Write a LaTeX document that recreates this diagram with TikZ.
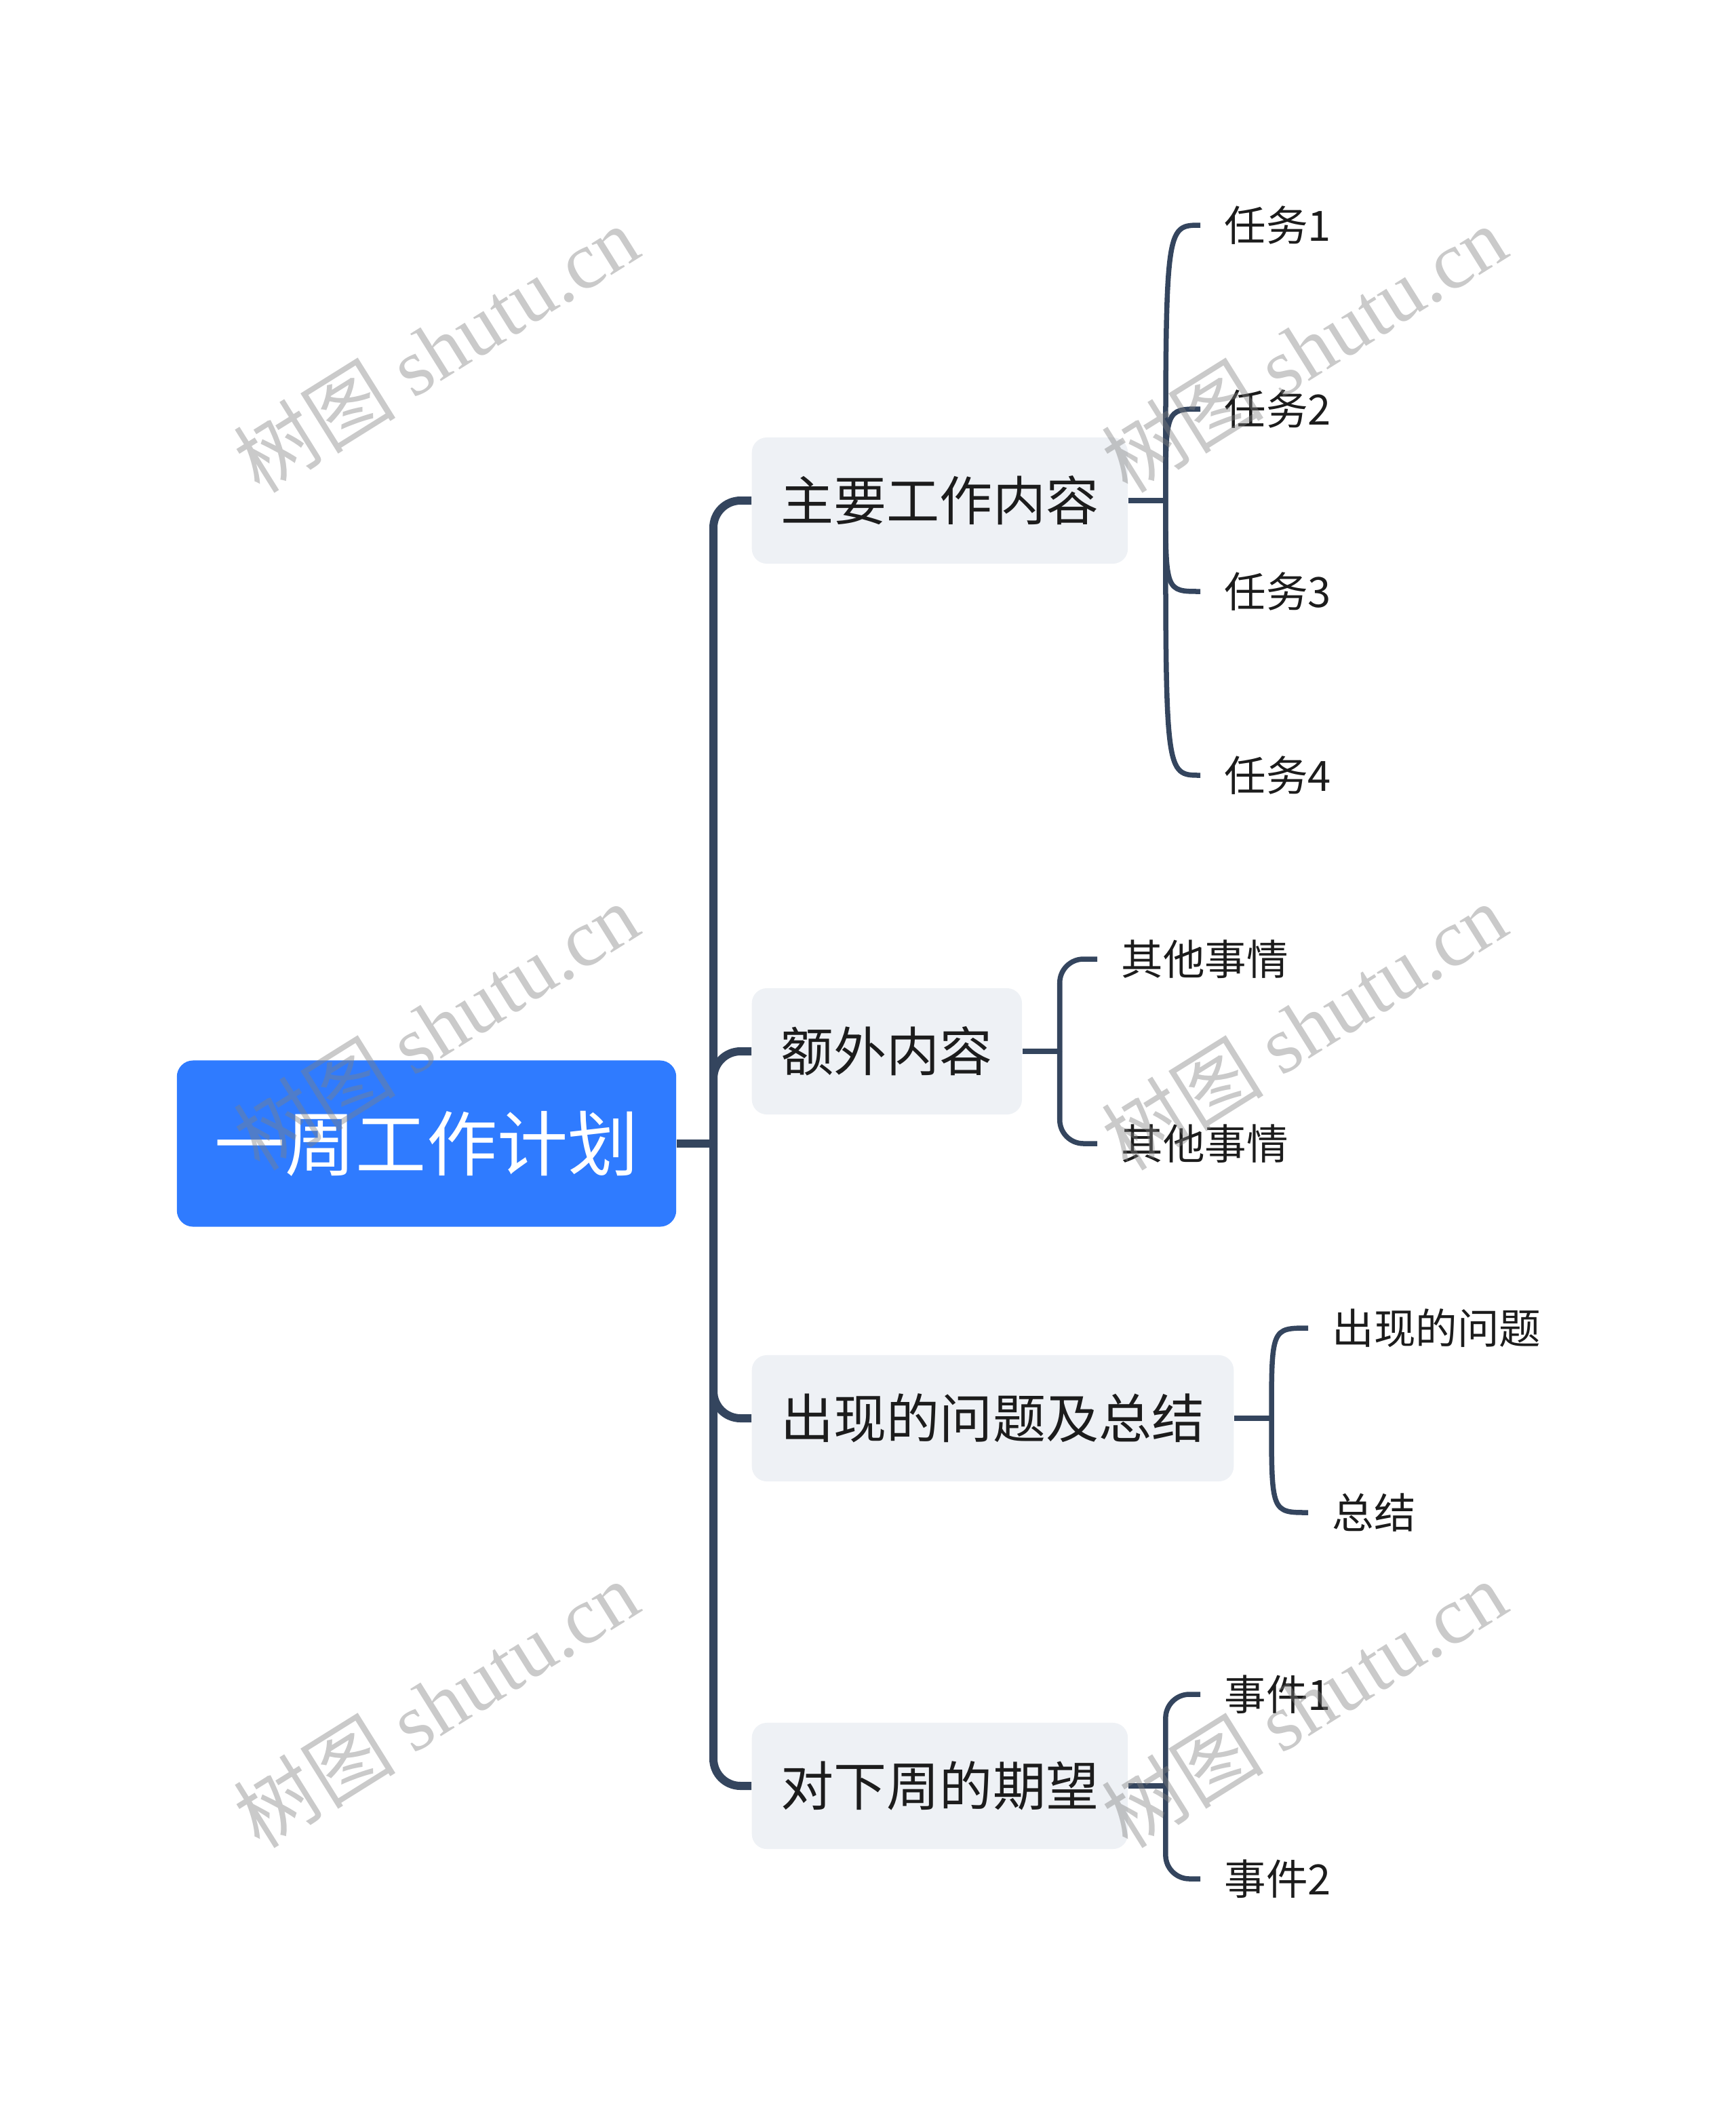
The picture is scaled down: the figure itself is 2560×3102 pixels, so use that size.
\documentclass[tikz,border=0pt]{standalone}
\usepackage{fontspec}
\setmainfont{Noto Sans CJK SC}
\newfontfamily\wmlatin{Liberation Serif}
\usetikzlibrary{calc}
\definecolor{rootblue}{HTML}{2F7BFF}
\definecolor{boxgray}{HTML}{EEF1F5}
\definecolor{linedark}{HTML}{34455E}
\definecolor{textdark}{HTML}{1C1C1C}
\tikzset{
	rootbox/.style={fill=rootblue, rounded corners=0.24cm, text=white, inner sep=0,
		minimum width=7.36cm, minimum height=2.45cm, font=\fontsize{29.6}{32}\selectfont},
	topicbox/.style={fill=boxgray, rounded corners=0.22cm, text=textdark, anchor=west,
		inner xsep=0.43cm, minimum height=1.86cm, font=\fontsize{22.2}{26}\selectfont},
	leafnode/.style={text=textdark, anchor=west, inner xsep=0.35cm, inner ysep=0,
		font=\fontsize{17.5}{20}\selectfont},
	trunk/.style={draw=linedark, line width=0.12cm, rounded corners=0.4cm},
	twig/.style={draw=linedark, line width=0.075cm},
	wmark/.style={text=gray, opacity=0.42, rotate=32, inner sep=0,
		font=\fontsize{34}{38}\selectfont}
}
\begin{document}
\begin{tikzpicture}[x=0.01cm, y=-0.01cm]
	\useasboundingbox (0,0) rectangle (2560,3102);
	\node[rootbox] (root) at (629,1686) {一周工作计划};
	\node[topicbox] (b1) at (1108,738) {主要工作内容};
	\node[topicbox] (b2) at (1108,1550) {额外内容};
	\node[topicbox] (b3) at (1108,2091) {出现的问题及总结};
	\node[topicbox] (b4) at (1108,2633) {对下周的期望};
	\coordinate (hub) at (1052,1686);
	\draw[trunk] (root.east) -- (hub);
	\foreach \b in {b1,b2,b3,b4}
		\draw[trunk] (hub) |- (\b.west);
	% main tasks
	\node[leafnode] (t1) at (1770,332) {任务1};
	\node[leafnode] (t2) at (1770,603) {任务2};
	\node[leafnode] (t3) at (1770,872) {任务3};
	\node[leafnode] (t4) at (1770,1143) {任务4};
	\coordinate (j1) at ($(b1.east)+(55,0)$);
	\draw[twig] (b1.east) -- (j1);
	\foreach \n in {1,...,4}
		\draw[twig] (j1) .. controls (j1 |- t\n.west) .. (t\n.west);
	% extra
	\node[leafnode] (e1) at (1618,1414) {其他事情};
	\node[leafnode] (e2) at (1618,1686) {其他事情};
	\coordinate (j2) at ($(b2.east)+(55,0)$);
	\draw[twig] (b2.east) -- (j2);
	\foreach \n in {1,2}
		\draw[twig, rounded corners=0.35cm] (j2) |- (e\n.west);
	% problems
	\node[leafnode] (p1) at (1929,1958) {出现的问题};
	\node[leafnode] (p2) at (1929,2230) {总结};
	\coordinate (j3) at ($(b3.east)+(55,0)$);
	\draw[twig] (b3.east) -- (j3);
	\foreach \n in {1,2}
		\draw[twig] (j3) .. controls (j3 |- p\n.west) .. (p\n.west);
	% next week
	\node[leafnode] (w1) at (1770,2498) {事件1};
	\node[leafnode] (w2) at (1770,2770) {事件2};
	\coordinate (j4) at ($(b4.east)+(55,0)$);
	\draw[twig] (b4.east) -- (j4);
	\foreach \n in {1,2}
		\draw[twig, rounded corners=0.35cm] (j4) |- (w\n.west);
	% watermark
	\foreach \x in {643,1923}
		\foreach \y in {514,1513,2512}
			\node[wmark] at (\x,\y) {树图 {\wmlatin shutu.cn}};
\end{tikzpicture}
\end{document}
